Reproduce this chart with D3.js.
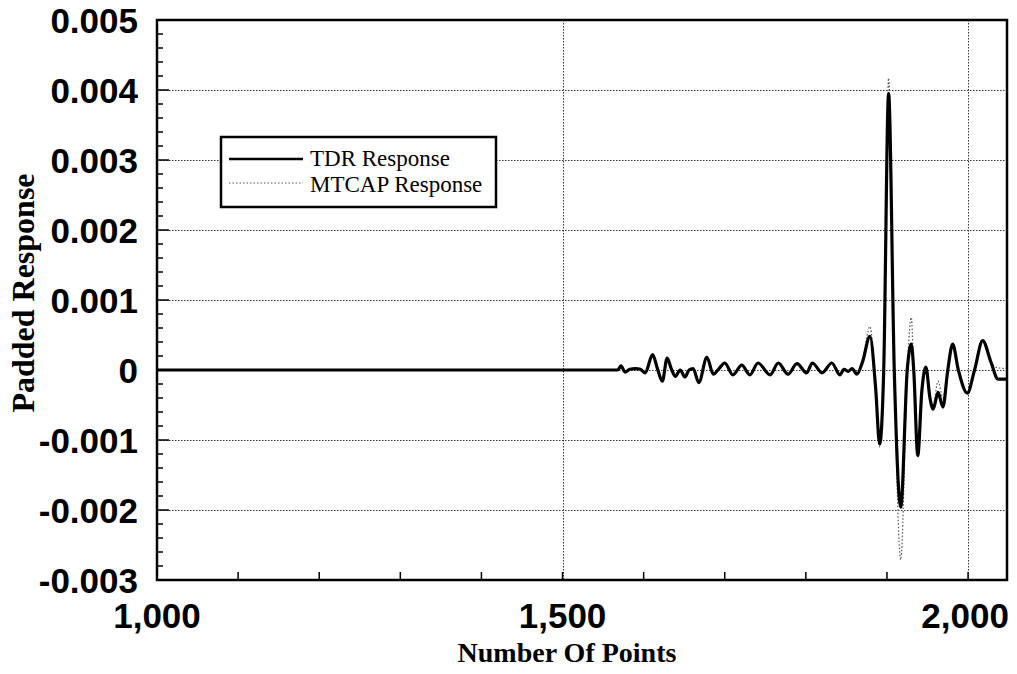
<!DOCTYPE html>
<html>
<head>
<meta charset="utf-8">
<script src="https://cdn.jsdelivr.net/npm/d3@7/dist/d3.min.js"></script>
<style>
  html, body { margin: 0; padding: 0; background: #fff; }
  svg { display: block; }
</style>
</head>
<body>
<svg id="chart" width="1017" height="674"></svg>
<script>
// Sample positions (number of points) shared by both responses
const sampleIndex = [
  1000, 1568, 1572, 1577, 1583, 1590, 1596, 1602, 1611, 1617, 1623, 1629, 1634, 1639,
  1645, 1651, 1656, 1661, 1668, 1678, 1686, 1693, 1700, 1710, 1721, 1731, 1741, 1756,
  1766, 1778, 1789, 1801, 1808, 1820, 1832, 1842, 1847, 1852, 1857, 1863, 1870, 1879,
  1886, 1891, 1896, 1902, 1909, 1917, 1925, 1930, 1933, 1938, 1943, 1948, 1953, 1957,
  1963, 1969, 1975, 1981, 1988, 1999, 2008, 2018, 2028, 2037, 2048
];

// Measured TDR response
const tdrValues = [
  0, 0, 0.00006, -0.00003, 0.00001, 0.00002, 0.00001, -0.00004, 0.00022, 0.00002, -0.00016, 0.00017, 0.00002, -0.00009,
  0.0, -0.0001, 0.0, 0.00002, -0.00018, 0.00018, -0.00006, 0.00002, 0.0001, -0.00007, 0.00007, -0.00007, 0.0001, -0.00007,
  0.0001, -0.00006, 0.00009, -0.00004, 0.0001, -0.00004, 0.0001, -0.00007, 0.00001, -0.00002, 0.00002, -0.00006, 0.00012, 0.00048,
  -0.00025, -0.00106, 0.0, 0.00395, 0.0, -0.00196, 0.0, 0.00037, 0.0, -0.00122, -0.0003, 0.00004, -0.0004, -0.00056,
  -0.00032, -0.00053, 0.0, 0.00037, 0.0, -0.00033, 0.0, 0.00042, 0.00012, -0.00013, -0.00013
];

// Modelled MTCAP response
const mtcapValues = [
  0, 0, 0.00006, -0.00003, 0.00001, 0.00002, 0.00001, -0.00004, 0.00022, 0.00002, -0.00016, 0.00017, 0.00002, -0.00009,
  0.0, -0.0001, 0.0, 0.00002, -0.00018, 0.00018, -0.00006, 0.00002, 0.0001, -0.00007, 0.00007, -0.00007, 0.0001, -0.00007,
  0.0001, -0.00006, 0.00009, -0.00004, 0.0001, -0.00004, 0.0001, -0.00007, 0.00001, -0.00002, 0.00002, -0.00006, 0.00014, 0.00062,
  -0.00025, -0.0011, 0.0, 0.00417, 0.0, -0.00271, 0.0, 0.00075, 0.0, -0.00125, -0.0003, 0.00004, -0.0004, -0.0005,
  -0.00016, -0.0004, 0.0, 0.00037, 0.0, -0.00033, 0.0, 0.00042, 0.00012, 0.00003, 0.00002
];

const xTickValues = [1000, 1500, 2000];
const xTickLabels = ["1,000", "1,500", "2,000"];
const yTickValues = [0.005, 0.004, 0.003, 0.002, 0.001, 0, -0.001, -0.002, -0.003];
const yTickLabels = ["0.005", "0.004", "0.003", "0.002", "0.001", "0", "-0.001", "-0.002", "-0.003"];
const seriesNames = ["TDR Response", "MTCAP Response"];

const svg = d3.select("#chart");
const margin = { left: 157, top: 20, right: 10, bottom: 94 };
const W = 1017, H = 674;
const plotW = W - margin.left - margin.right;
const plotH = H - margin.top - margin.bottom;

const x = d3.scaleLinear().domain([1000, 2048]).range([margin.left, margin.left + plotW]);
const y = d3.scaleLinear().domain([-0.003, 0.005]).range([margin.top + plotH, margin.top]);

const sansBold = "'Liberation Sans', Arial, Helvetica, sans-serif";
const serif = "'Liberation Serif', 'Times New Roman', serif";

// Grid lines
const grid = svg.append("g").attr("stroke", "#333").attr("stroke-width", 1)
  .attr("stroke-dasharray", "1.5,1.5");
yTickValues.filter(v => v > -0.003 && v < 0.005).forEach(v => {
  grid.append("line")
    .attr("x1", x(1000)).attr("x2", x(2048))
    .attr("y1", Math.round(y(v)) + 0.5).attr("y2", Math.round(y(v)) + 0.5);
});
[1500, 2000].forEach(v => {
  grid.append("line")
    .attr("x1", Math.round(x(v)) + 0.5).attr("x2", Math.round(x(v)) + 0.5)
    .attr("y1", y(0.005)).attr("y2", y(-0.003));
});

// Minor and major tick marks, drawn inward
const ticks = svg.append("g").attr("stroke", "#000").attr("stroke-width", 1.5);
d3.range(-0.003, 0.00501, 0.0002).forEach(v => {
  const major = Math.abs(v * 1000 - Math.round(v * 1000)) < 1e-6;
  ticks.append("line")
    .attr("x1", x(1000)).attr("x2", x(1000) + (major ? 12 : 6))
    .attr("y1", y(v)).attr("y2", y(v));
});
d3.range(1000, 2048, 100).forEach(v => {
  ticks.append("line")
    .attr("x1", x(v)).attr("x2", x(v))
    .attr("y1", y(-0.003)).attr("y2", y(-0.003) - 8);
});

// Data lines
const pts = (vals) => sampleIndex.map((d, i) => [d, vals[i]]);
const line = d3.line().x(d => x(d[0])).y(d => y(d[1])).curve(d3.curveMonotoneX);

svg.append("path")
  .attr("d", line(pts(mtcapValues)))
  .attr("fill", "none").attr("stroke", "#555").attr("stroke-width", 1.2)
  .attr("stroke-dasharray", "1.5,2");

svg.append("path")
  .attr("d", line(pts(tdrValues)))
  .attr("fill", "none").attr("stroke", "#000").attr("stroke-width", 3.2)
  .attr("stroke-linejoin", "round");

// Frame
svg.append("rect")
  .attr("x", x(1000)).attr("y", y(0.005))
  .attr("width", x(2048) - x(1000)).attr("height", y(-0.003) - y(0.005))
  .attr("fill", "none").attr("stroke", "#000").attr("stroke-width", 2.5);

// Tick labels
svg.append("g").selectAll("text").data(yTickValues).join("text")
  .attr("x", 138).attr("y", d => y(d) + 12.5)
  .attr("text-anchor", "end")
  .attr("font-family", sansBold).attr("font-weight", "bold").attr("font-size", 35)
  .text((d, i) => yTickLabels[i]);

svg.append("g").selectAll("text").data(xTickValues).join("text")
  .attr("x", (d, i) => i === 2 ? x(d) - 3 : x(d)).attr("y", 628)
  .attr("text-anchor", "middle")
  .attr("font-family", sansBold).attr("font-weight", "bold").attr("font-size", 35)
  .text((d, i) => xTickLabels[i]);

// Axis titles
svg.append("text")
  .attr("x", 567).attr("y", 662)
  .attr("text-anchor", "middle")
  .attr("font-family", serif).attr("font-weight", "bold").attr("font-size", 28)
  .text("Number Of Points");

svg.append("text")
  .attr("transform", "translate(34,293) rotate(-90)")
  .attr("text-anchor", "middle")
  .attr("font-family", serif).attr("font-weight", "bold").attr("font-size", 32)
  .text("Padded Response");

// Legend
const lg = svg.append("g");
lg.append("rect")
  .attr("x", 221).attr("y", 137).attr("width", 275).attr("height", 70)
  .attr("fill", "#fff").attr("stroke", "#000").attr("stroke-width", 2.5);
lg.append("line")
  .attr("x1", 229).attr("x2", 303).attr("y1", 159).attr("y2", 159)
  .attr("stroke", "#000").attr("stroke-width", 2.5);
lg.append("line")
  .attr("x1", 229).attr("x2", 303).attr("y1", 183).attr("y2", 183)
  .attr("stroke", "#555").attr("stroke-width", 1.2).attr("stroke-dasharray", "1.5,2");
lg.selectAll("text.lab").data(seriesNames).join("text")
  .attr("class", "lab")
  .attr("x", 310).attr("y", (d, i) => 166 + i * 26)
  .attr("font-family", serif).attr("font-size", 23)
  .text(d => d);
</script>
</body>
</html>
